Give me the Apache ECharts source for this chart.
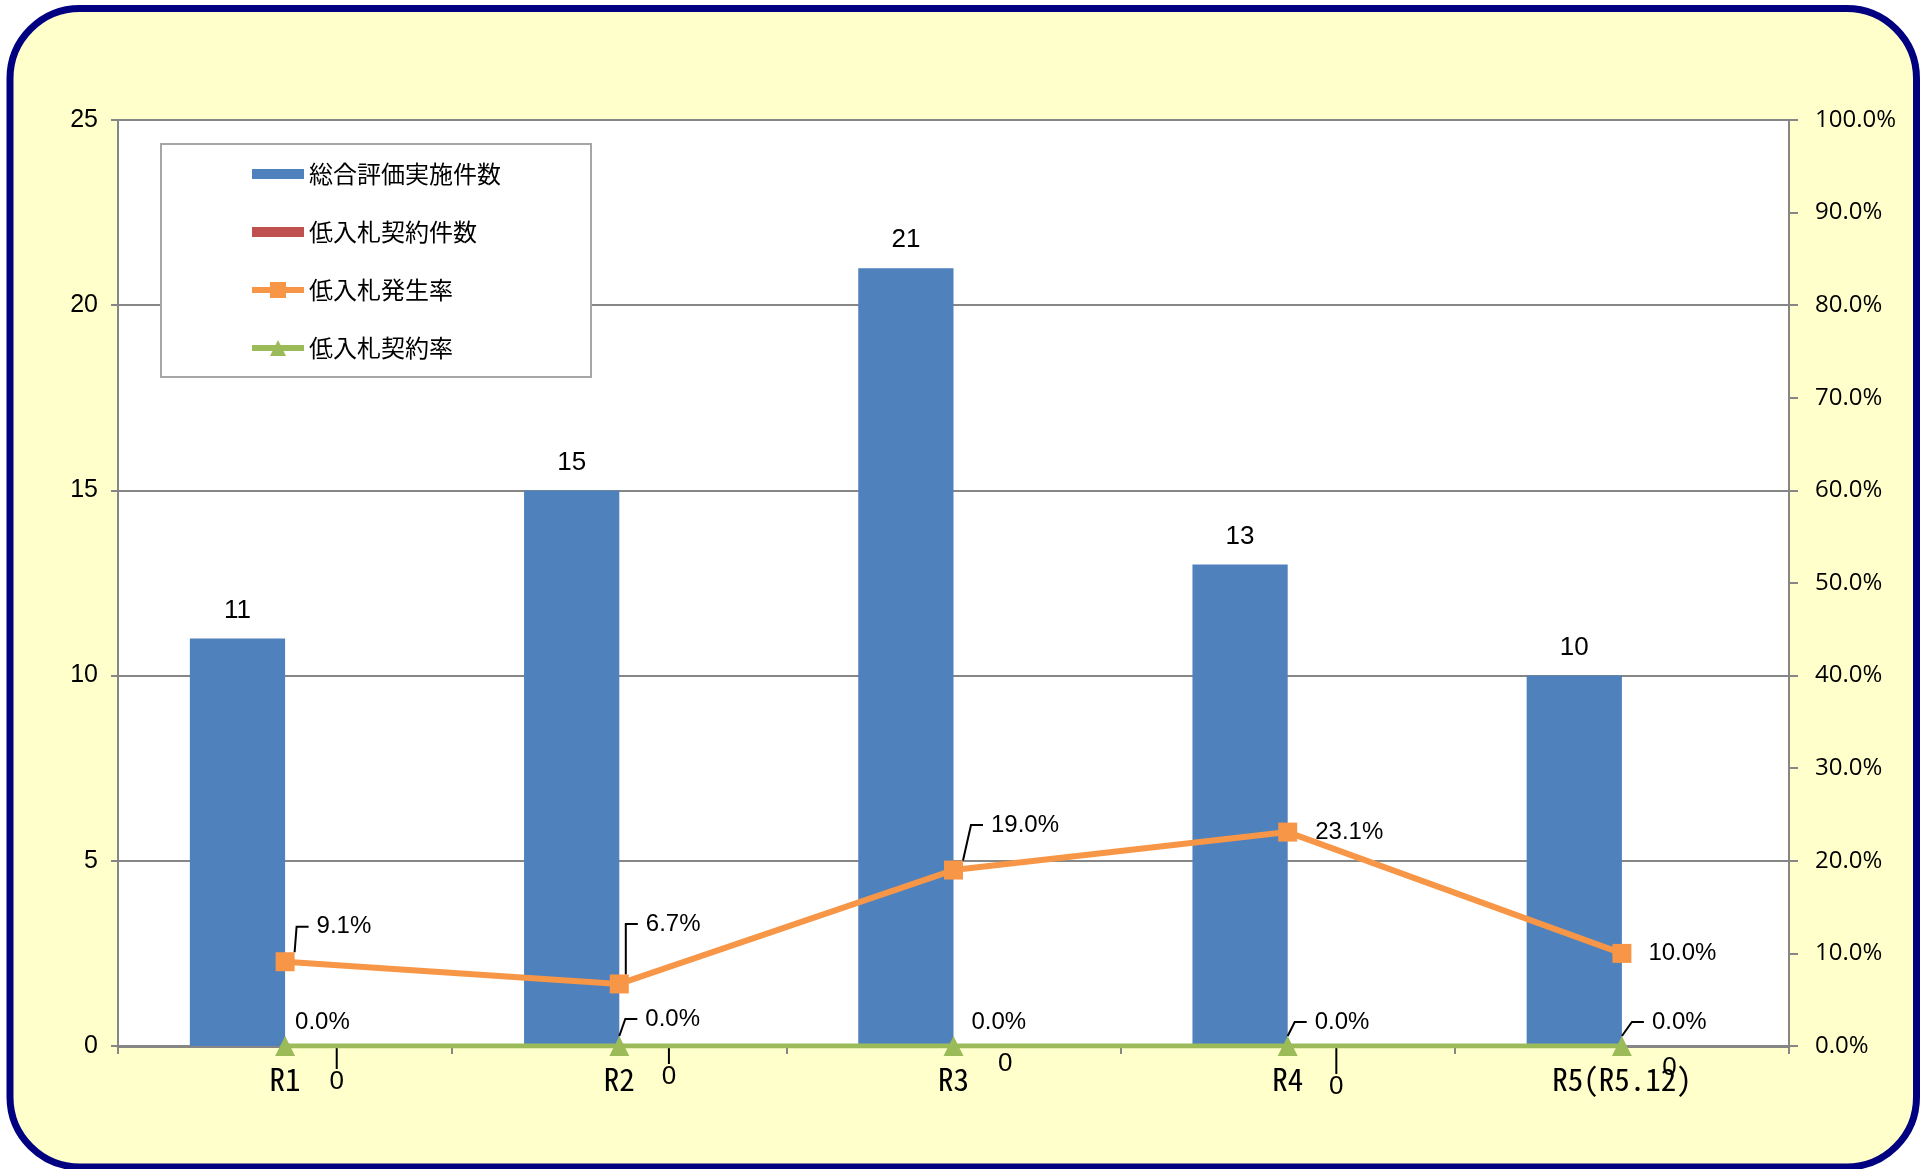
<!DOCTYPE html>
<html>
<head>
<meta charset="utf-8">
<script src="https://cdn.jsdelivr.net/npm/echarts@6/dist/echarts.min.js"></script>
<style>
html,body{margin:0;padding:0;background:#ffffff;}
#c{width:1927px;height:1169px;}
</style>
</head>
<body>
<div id="c"></div>
<script>
// ---- data ----
const categories = ['R1', 'R2', 'R3', 'R4', 'R5(R5.12)'];
const totalEvalCounts = [11, 15, 21, 13, 10];          // 総合評価実施件数
const lowBidContractCounts = [0, 0, 0, 0, 0];          // 低入札契約件数
const lowBidOccurrenceRate = [9.1, 6.7, 19.0, 23.1, 10.0]; // 低入札発生率 (%)
const lowBidContractRate = [0.0, 0.0, 0.0, 0.0, 0.0];  // 低入札契約率 (%)
const seriesNames = ['総合評価実施件数', '低入札契約件数', '低入札発生率', '低入札契約率'];

// ---- label placement (style) ----
const occShift = [[14, -35], [9, -60], [20, -45], [10, 0], [9, 0]];
const occLeader = [true, true, true, false, false];
const conShift = [[-8, -24], [8, -27], [0, -24], [9, -24], [12, -24]];
const conLeader = [false, true, false, true, true];
const zeroShift = [[4, 23], [2, 18], [4, 5], [1, 28], [0, 9]];
const zeroLeader = [true, true, false, true, false];

const NARROW = "'Liberation Sans Narrow', 'Liberation Sans', Arial, sans-serif";
const MONO = "'Noto Sans Mono CJK JP', 'DejaVu Sans Mono', monospace";
const CJK = "'Noto Sans CJK JP', sans-serif";
const UI = "'Open Sans', 'Noto Sans', sans-serif";
const GRAY = '#868686';

const chart = echarts.init(document.getElementById('c'));

function withLeader(values, flags) {
  return values.map((v, i) => ({ value: v, labelLine: { show: flags[i] } }));
}
const leaderStyle = { show: true, length2: 12, minTurnAngle: 0, lineStyle: { color: '#000', width: 2 } };

const option = {
  backgroundColor: '#ffffff',
  animation: false,
  graphic: [{
    type: 'rect', z: -100, silent: true,
    shape: { x: 10, y: 8.5, width: 1906.5, height: 1158.5, r: 70 },
    style: { fill: '#FFFFCC', stroke: '#000080', lineWidth: 7 }
  }],
  grid: {
    left: 118, top: 120, width: 1671, height: 926,
    show: true, backgroundColor: '#ffffff', borderWidth: 0
  },
  legend: {
    orient: 'vertical', left: 161, top: 144,
    padding: [18, 90, 17, 88],
    backgroundColor: '#ffffff', borderColor: '#A6A6A6', borderWidth: 2,
    itemWidth: 52, itemHeight: 20, itemGap: 34,
    lineStyle: { width: 6 },
    textStyle: { fontFamily: CJK, fontSize: 24, lineHeight: 24, color: '#000' },
    data: [
      { name: seriesNames[0], icon: 'path://M0,0H52V10H0Z' },
      { name: seriesNames[1], icon: 'path://M0,0H52V10H0Z' },
      { name: seriesNames[2] },
      { name: seriesNames[3] }
    ]
  },
  xAxis: {
    type: 'category', data: categories,
    axisLine: { lineStyle: { color: GRAY, width: 3 } },
    axisTick: { show: true, length: 8, lineStyle: { color: GRAY, width: 2 } },
    axisLabel: { fontFamily: MONO, fontSize: 31, color: '#000', margin: 18 }
  },
  yAxis: [{
    type: 'value', min: 0, max: 25, interval: 5, position: 'left',
    axisLine: { show: true, lineStyle: { color: GRAY, width: 2 } },
    axisTick: { show: true, length: 7, lineStyle: { color: GRAY, width: 2 } },
    splitLine: { show: true, lineStyle: { color: GRAY, width: 2 } },
    axisLabel: { fontFamily: NARROW, fontSize: 25, color: '#000', margin: 20 }
  }, {
    type: 'value', min: 0, max: 100, interval: 10, position: 'right',
    axisLine: { show: true, lineStyle: { color: GRAY, width: 2 } },
    axisTick: { show: true, length: 9, lineStyle: { color: GRAY, width: 2 } },
    splitLine: { show: false },
    axisLabel: { fontFamily: UI, fontSize: 24, color: '#000', margin: 26,
      formatter: v => v.toFixed(1) + '%' }
  }],
  series: [{
    name: seriesNames[0], type: 'bar', yAxisIndex: 0,
    data: totalEvalCounts,
    barGap: '0%', barCategoryGap: '43%',
    itemStyle: { color: '#4F81BD' },
    label: { show: true, position: 'top', distance: 15,
      fontFamily: NARROW, fontSize: 26, color: '#000' }
  }, {
    name: seriesNames[1], type: 'bar', yAxisIndex: 0,
    data: withLeader(lowBidContractCounts, zeroLeader),
    barGap: '0%', barCategoryGap: '43%',
    itemStyle: { color: '#C0504D' },
    label: { show: true, position: 'bottom', distance: 0,
      fontFamily: NARROW, fontSize: 26, color: '#000' },
    labelLine: Object.assign({}, leaderStyle, { length2: 0 }),
    labelLayout: p => ({ dx: zeroShift[p.dataIndex][0], dy: zeroShift[p.dataIndex][1] })
  }, {
    name: seriesNames[2], type: 'line', yAxisIndex: 1,
    data: withLeader(lowBidOccurrenceRate, occLeader),
    symbol: 'rect', symbolSize: 19,
    lineStyle: { color: '#F79646', width: 6 },
    itemStyle: { color: '#F79646' },
    label: { show: true, position: 'right', distance: 0, padding: [0, 24, 0, 8],
      backgroundColor: 'rgba(0,0,0,0)',
      fontFamily: NARROW, fontSize: 24, color: '#000',
      formatter: p => p.value.toFixed(1) + '%' },
    labelLine: leaderStyle,
    labelLayout: p => ({ dx: occShift[p.dataIndex][0], dy: occShift[p.dataIndex][1] })
  }, {
    name: seriesNames[3], type: 'line', yAxisIndex: 1,
    data: withLeader(lowBidContractRate, conLeader),
    symbol: 'triangle', symbolSize: 20,
    lineStyle: { color: '#9BBB59', width: 5 },
    itemStyle: { color: '#9BBB59' },
    label: { show: true, position: 'right', distance: 0, padding: [0, 0, 0, 8],
      backgroundColor: 'rgba(0,0,0,0)',
      fontFamily: NARROW, fontSize: 24, color: '#000',
      formatter: p => p.value.toFixed(1) + '%' },
    labelLine: leaderStyle,
    labelLayout: p => ({ dx: conShift[p.dataIndex][0], dy: conShift[p.dataIndex][1] })
  }]
};
chart.setOption(option);
</script>
</body>
</html>
